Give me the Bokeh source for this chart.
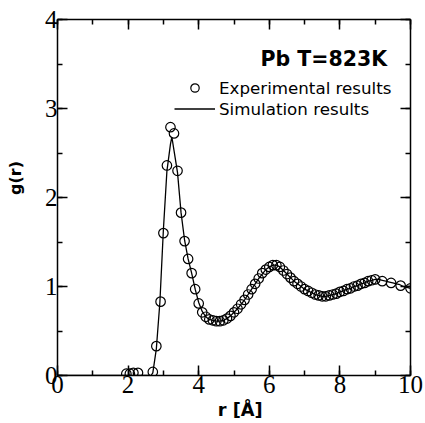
from bokeh.plotting import figure
from bokeh.models import (Range1d, LinearAxis, SingleIntervalTicker, Label,
                          Legend, LegendItem, CustomJSTickFormatter)
from bokeh.embed import file_html
from bokeh.resources import INLINE

# Pair distribution function of liquid Pb at 823 K
exp_r = [1.95, 2.05, 2.15, 2.28, 2.7, 2.8, 2.92, 3.0, 3.1, 3.2, 3.3, 3.4, 3.5,
         3.6, 3.7, 3.8, 3.9, 4.0, 4.1, 4.2, 4.3, 4.4, 4.5, 4.6, 4.7, 4.8, 4.9,
         5.0, 5.1, 5.2, 5.3, 5.4, 5.5, 5.6, 5.7, 5.8, 5.9, 6.0, 6.1, 6.2, 6.3,
         6.4, 6.5, 6.6, 6.7, 6.8, 6.9, 7.0, 7.1, 7.2, 7.3, 7.4, 7.5, 7.6, 7.7,
         7.8, 7.9, 8.0, 8.1, 8.2, 8.3, 8.4, 8.5, 8.6, 8.7, 8.8, 8.9, 9.0, 9.2,
         9.45, 9.72, 10.0]
exp_g = [0.02, 0.02, 0.03, 0.03, 0.04, 0.33, 0.83, 1.60, 2.36, 2.79, 2.72, 2.30,
         1.83, 1.51, 1.31, 1.15, 0.97, 0.81, 0.71, 0.66, 0.63, 0.62, 0.61, 0.61,
         0.62, 0.64, 0.67, 0.71, 0.75, 0.80, 0.85, 0.91, 0.97, 1.03, 1.09, 1.15,
         1.19, 1.22, 1.24, 1.24, 1.22, 1.18, 1.14, 1.10, 1.06, 1.03, 1.00, 0.97,
         0.95, 0.93, 0.91, 0.90, 0.89, 0.89, 0.90, 0.91, 0.92, 0.94, 0.95, 0.97,
         0.98, 1.00, 1.01, 1.03, 1.04, 1.06, 1.07, 1.08, 1.06, 1.04, 1.01, 0.98]

sim_r = [0.0, 1.0, 2.0, 2.65, 2.7, 2.8, 2.9, 3.0, 3.1, 3.2, 3.24, 3.3, 3.4,
         3.5, 3.6, 3.7, 3.8, 3.9, 4.0, 4.1, 4.2, 4.3, 4.4, 4.5, 4.6, 4.7, 4.8,
         4.9, 5.0, 5.1, 5.2, 5.3, 5.4, 5.5, 5.6, 5.7, 5.8, 5.9, 6.0, 6.1, 6.2,
         6.3, 6.4, 6.5, 6.6, 6.7, 6.8, 6.9, 7.0, 7.1, 7.2, 7.3, 7.4, 7.5, 7.6,
         7.7, 7.8, 7.9, 8.0, 8.1, 8.2, 8.3, 8.4, 8.5, 8.6, 8.7, 8.8, 8.9, 9.0,
         9.1, 9.2, 9.3, 9.4, 9.5, 9.6, 9.7, 9.8, 9.9, 10.0]
sim_g = [0.0, 0.0, 0.0, 0.0, 0.03, 0.30, 0.82, 1.64, 2.30, 2.60, 2.68, 2.53,
         2.28, 1.83, 1.52, 1.31, 1.15, 0.97, 0.82, 0.72, 0.66, 0.63, 0.62,
         0.61, 0.61, 0.62, 0.64, 0.67, 0.71, 0.75, 0.80, 0.85, 0.91, 0.97,
         1.03, 1.09, 1.14, 1.19, 1.22, 1.24, 1.24, 1.22, 1.18, 1.14, 1.10,
         1.06, 1.03, 1.00, 0.97, 0.95, 0.93, 0.91, 0.90, 0.89, 0.89, 0.90,
         0.91, 0.92, 0.94, 0.95, 0.97, 0.98, 1.00, 1.01, 1.03, 1.04, 1.06,
         1.07, 1.08, 1.08, 1.07, 1.06, 1.05, 1.04, 1.03, 1.02, 1.00, 0.99, 0.98]

TICK_FONT = "Liberation Serif"
SANS = "DejaVu Sans"
NBSP = "\u00a0"

p = figure(width=425, height=423, output_backend="svg", toolbar_location=None,
           x_range=Range1d(0, 10), y_range=Range1d(0, 4),
           min_border_left=57, min_border_right=15,
           min_border_top=19, min_border_bottom=48)
p.xgrid.visible = False
p.ygrid.visible = False
p.outline_line_color = None
p.background_fill_color = "white"
p.border_fill_color = "white"

blank = CustomJSTickFormatter(code="return '';")


def style_axis(ax, interval, labelled):
    ax.ticker = SingleIntervalTicker(interval=interval, num_minor_ticks=2)
    ax.axis_line_color = "black"
    ax.axis_line_width = 1.5
    ax.major_tick_line_width = 1.5
    ax.minor_tick_line_width = 1.5
    ax.major_tick_in = 10
    ax.major_tick_out = 0
    ax.minor_tick_in = 5
    ax.minor_tick_out = 0
    ax.major_label_standoff = 0
    ax.major_label_text_font = TICK_FONT
    ax.major_label_text_font_size = "25px"
    ax.major_label_text_color = "black"
    ax.axis_label_text_font = SANS
    ax.axis_label_text_font_style = "bold"
    ax.axis_label_text_color = "black"
    if not labelled:
        ax.formatter = blank


bottom = p.xaxis[0]
left = p.yaxis[0]
style_axis(bottom, 2, True)
style_axis(left, 1, True)
top = LinearAxis()
right = LinearAxis()
style_axis(top, 2, False)
style_axis(right, 1, False)
p.add_layout(top, "above")
p.add_layout(right, "right")

# axis titles; the no-break spaces nudge each title along its axis
bottom.axis_label = NBSP * 2 + "r [Å]"
bottom.axis_label_text_font_size = "17.8px"
bottom.axis_label_standoff = 3
left.axis_label = NBSP * 7 + "g(r)"
left.axis_label_text_font_size = "16px"
left.axis_label_standoff = 17

sim = p.line(sim_r, sim_g, line_color="black", line_width=1.3)
exp = p.scatter(exp_r, exp_g, marker="circle", size=9.5, fill_color=None,
                line_color="black", line_width=1.2)

legend = Legend(items=[LegendItem(label="Experimental results", renderers=[exp]),
                       LegendItem(label="Simulation results", renderers=[sim])],
                location=(117, 256), orientation="vertical",
                glyph_width=41, glyph_height=21, label_height=21,
                label_standoff=4, spacing=0, padding=0, margin=0,
                border_line_color=None, background_fill_alpha=0,
                label_text_font=SANS, label_text_font_size="16.7px",
                label_text_color="black")
p.add_layout(legend)

p.add_layout(Label(x=9.34, y=3.558, text="Pb T=823K", text_align="right",
                   text_baseline="alphabetic", text_font=SANS,
                   text_font_style="bold", text_font_size="20.5px",
                   text_color="black"))

open("out.html", "w").write(file_html(p, INLINE))
